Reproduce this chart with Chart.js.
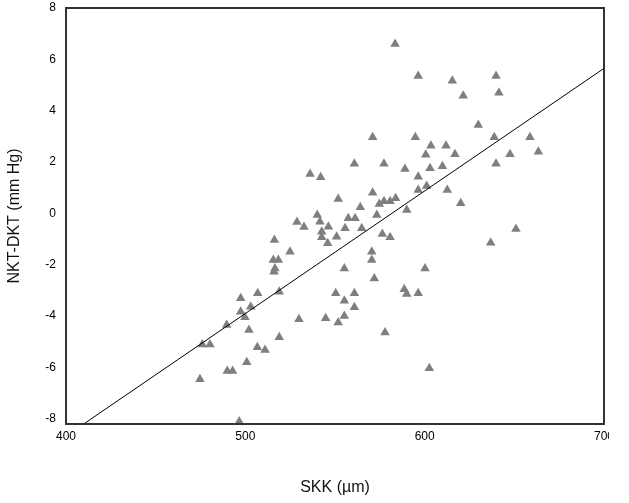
<!DOCTYPE html>
<html>
<head>
<meta charset="utf-8">
<script src="https://cdn.jsdelivr.net/npm/chart.js@4.4.0/dist/chart.umd.min.js"></script>
<style>
  html, body { margin: 0; padding: 0; background: #fff; }
  #wrap { width: 609px; height: 503px; overflow: hidden; }
</style>
</head>
<body>
<div id="wrap"><canvas id="chart" width="629" height="503"></canvas></div>
<script>
// Dados
const skk = [
  583.5, 596.4, 571.0, 594.8, 603.5, 600.6, 560.8, 577.3, 589.0, 603.0,
  609.9, 536.1, 542.0, 596.4, 601.1, 596.4, 571.0, 551.8, 574.7, 577.3,
  580.7, 583.8, 564.1, 590.0, 540.1, 557.4, 561.2, 573.3, 541.6, 546.3,
  532.7, 555.6, 564.9, 542.6, 528.8,
  542.6, 545.9, 550.9, 576.4, 580.7, 570.5, 570.5, 555.2, 600.2, 571.9,
  550.4, 560.8, 555.2, 560.8, 588.6, 590.0, 596.4, 544.8, 555.2, 551.8,
  577.9, 602.6,
  516.2, 524.9, 515.6, 518.4, 516.5, 516.0, 518.9, 506.9, 497.4, 503.0,
  497.4, 499.8, 529.9, 489.6, 502.0, 518.9, 476.0, 480.3, 506.7, 511.0,
  500.8, 489.9, 492.9, 474.7, 496.6,
  615.4, 639.8, 621.5, 641.4, 629.9, 638.8, 658.7, 611.9, 616.9, 647.6,
  663.4, 639.8, 612.6, 620.1, 650.9, 636.8
];
const nktDkt = [
  6.60, 5.35, 2.97, 2.97, 2.64, 2.29, 1.93, 1.93, 1.73, 1.76,
  1.84, 1.54, 1.41, 1.43, 1.07, 0.91, 0.81, 0.56, 0.37, 0.47,
  0.47, 0.59, 0.24, 0.13, -0.06, -0.19, -0.19, -0.06, -0.32, -0.52,
  -0.53, -0.58, -0.58, -0.71, -0.33,
  -0.93, -1.16, -0.91, -0.80, -0.93, -1.49, -1.81, -2.14, -2.14, -2.53,
  -3.11, -3.11, -3.40, -3.65, -2.95, -3.14, -3.11, -4.08, -3.99, -4.25,
  -4.64, -6.03,
  -1.03, -1.49, -1.81, -1.81, -2.14, -2.27, -3.05, -3.11, -3.30, -3.63,
  -3.83, -4.04, -4.12, -4.34, -4.54, -4.82, -5.10, -5.10, -5.21, -5.32,
  -5.80, -6.14, -6.14, -6.46, -8.1,
  5.17, 5.35, 4.58, 4.70, 3.44, 2.97, 2.97, 2.64, 2.30, 2.30,
  2.40, 1.93, 0.91, 0.40, -0.61, -1.14
];

// Reta de regressão (extremos lidos)
const fitX = [400, 700];
const fitY = [-8.67, 5.65];

const xTicks = [400, 500, 600, 700];
const yTicks = [-8, -6, -4, -2, 0, 2, 4, 6, 8];

const pontos = skk.map((x, i) => ({ x: x, y: nktDkt[i] }));
const reta = fitX.map((x, i) => ({ x: x, y: fitY[i] }));

// Moldura em volta da área do gráfico
const moldura = {
  id: 'moldura',
  afterDatasetsDraw(chart) {
    const { ctx, chartArea: a } = chart;
    ctx.save();
    ctx.strokeStyle = '#333';
    ctx.lineWidth = 2;
    ctx.strokeRect(a.left, a.top, a.right - a.left, a.bottom - a.top);
    ctx.restore();
  }
};

const fonte = 'Liberation Sans, Arial';

const ctx = document.getElementById('chart').getContext('2d');
new Chart(ctx, {
  type: 'scatter',
  data: {
    datasets: [
      {
        type: 'line',
        data: reta,
        borderColor: '#000',
        borderWidth: 1,
        pointRadius: 0,
        fill: false
      },
      {
        data: pontos,
        pointStyle: 'triangle',
        pointRadius: 5.5,
        pointBackgroundColor: '#7f7f7f',
        pointBorderWidth: 0,
        clip: false
      }
    ]
  },
  options: {
    responsive: false,
    animation: false,
    layout: { padding: { top: 8, right: 25, left: 0, bottom: 0 } },
    plugins: {
      legend: { display: false },
      tooltip: { enabled: false }
    },
    scales: {
      x: {
        type: 'linear',
        min: 400,
        max: 700,
        afterBuildTicks: (s) => { s.ticks = xTicks.map(v => ({ value: v })); },
        afterFit: (s) => { s.height = 79; s.paddingLeft = 0; s.paddingRight = 0; },
        grid: { display: false, drawTicks: false },
        border: { display: false },
        ticks: {
          padding: 5,
          color: '#000',
          font: { family: fonte, size: 12 }
        },
        title: {
          display: true,
          text: 'SKK (µm)',
          color: '#111',
          padding: { top: 0, bottom: 6 },
          font: { family: fonte, size: 16 }
        }
      },
      y: {
        type: 'linear',
        min: -8.2,
        max: 8,
        afterBuildTicks: (s) => { s.ticks = yTicks.map(v => ({ value: v })); },
        afterFit: (s) => { s.width = 66; s.paddingTop = 0; s.paddingBottom = 0; },
        grid: { display: false, drawTicks: false },
        border: { display: false },
        ticks: {
          padding: 10,
          color: '#000',
          font: { family: fonte, size: 12 }
        },
        title: {
          display: true,
          text: 'NKT-DKT (mm Hg)',
          color: '#111',
          padding: { top: 5, bottom: 0 },
          font: { family: fonte, size: 16 }
        }
      }
    }
  },
  plugins: [moldura]
});
</script>
</body>
</html>
